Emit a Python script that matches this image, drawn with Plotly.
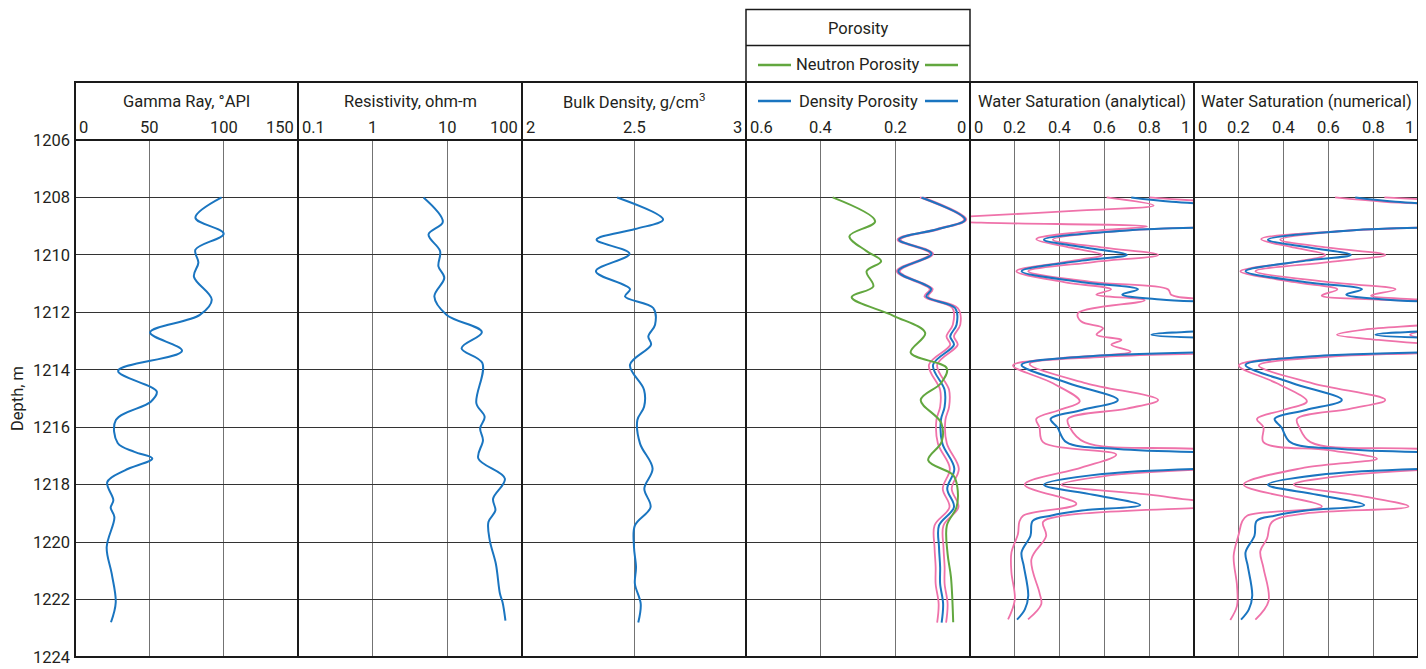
import math
import plotly.graph_objects as go

FONT = "Roboto, Liberation Sans, Arial, sans-serif"
TXT = "#231f20"
BLUE = "#1a75c0"
GREEN = "#62a73f"
PINK = "#ef72aa"

# ---------------- data ----------------
depth_gr = [1208.0, 1208.71, 1209.26, 1209.82, 1210.27, 1210.76, 1211.56, 1212.09, 1212.70,
            1213.34, 1214.04, 1214.76, 1215.11, 1215.75, 1216.55, 1216.86, 1217.09, 1217.5,
            1217.91, 1218.54, 1218.8, 1219.13, 1220.18, 1221.1, 1222.1, 1222.79]
gamma_ray = [98.6, 81, 100, 81, 83, 80, 92, 84, 50.5,
             72, 29, 55, 51, 27.5, 28.7, 40, 52, 33.6,
             21.7, 25.8, 24, 26.5, 21.3, 24.7, 27.4, 24.2]

depth_res = [1208.0, 1208.85, 1209.29, 1209.87, 1210.4, 1210.8, 1211.45, 1212.09, 1212.69,
             1213.25, 1213.77, 1215.17, 1215.64, 1216.04, 1216.45, 1217.09, 1217.79, 1218.49,
             1218.9, 1219.3, 1219.94, 1220.76, 1221.8, 1222.1, 1222.73]
resistivity = [4.8, 8.7, 5.6, 8.0, 7.6, 9.1, 6.7, 9.8, 29,
               15.5, 29.5, 24.5, 31.6, 27.5, 30, 26, 59, 41,
               44, 35.5, 37, 44.7, 50.7, 55, 60]

depth_rhob = [1208.0, 1208.77, 1209.1, 1209.47, 1209.96, 1210.57, 1211.19, 1211.45, 1211.85,
              1212.43, 1212.84, 1213.13, 1213.83, 1214.7, 1215.29, 1215.75, 1216.57, 1217.44,
              1218.14, 1218.78, 1219.42, 1220.18, 1220.87, 1221.45, 1222.15, 1222.8]
bulk_density = [2.425, 2.63, 2.505, 2.333, 2.48, 2.33, 2.482, 2.46, 2.586,
                2.594, 2.564, 2.576, 2.482, 2.545, 2.545, 2.515, 2.527, 2.583,
                2.546, 2.574, 2.504, 2.50, 2.509, 2.504, 2.53, 2.519]
density_porosity = [0.130, 0.013, 0.085, 0.190, 0.103, 0.192, 0.104, 0.117, 0.040,
                    0.036, 0.053, 0.043, 0.099, 0.068, 0.068, 0.078, 0.074, 0.042,
                    0.061, 0.043, 0.083, 0.083, 0.080, 0.080, 0.072, 0.076]
density_porosity_unc = [0.004, 0.003, 0.004, 0.004, 0.004, 0.004, 0.004, 0.005, 0.007,
                        0.010, 0.010, 0.010, 0.011, 0.012, 0.012, 0.012, 0.012, 0.012,
                        0.012, 0.012, 0.012, 0.012, 0.012, 0.012, 0.012, 0.012]

depth_nphi = [1208.0, 1208.83, 1209.35, 1209.87, 1210.22, 1210.57, 1211.1, 1211.47, 1212.12,
              1212.72, 1213.4, 1213.95, 1214.47, 1215.05, 1215.85, 1216.51, 1217.15, 1217.67,
              1218.08, 1218.78, 1219.42, 1220.41, 1221.22, 1222.79]
neutron_porosity = [0.368, 0.254, 0.323, 0.277, 0.238, 0.277, 0.259, 0.317, 0.205,
                    0.12, 0.159, 0.062, 0.078, 0.132, 0.077, 0.076, 0.112, 0.045,
                    0.034, 0.036, 0.062, 0.06, 0.051, 0.045]

# water saturation (same central curve in both tracks)
depth_sw = [1208.0, 1208.15, 1208.3, 1208.65, 1209.0, 1209.15, 1209.47, 1209.75, 1210.0,
            1210.2, 1210.57, 1210.95, 1211.2, 1211.38, 1211.55, 1211.7, 1212.1, 1212.55,
            1212.78, 1212.95, 1213.15, 1213.35, 1213.55, 1213.83, 1214.47, 1215.05, 1215.4,
            1215.71, 1216.0, 1216.52, 1216.76, 1216.9, 1217.15, 1217.4, 1217.63, 1218.0,
            1218.35, 1218.71, 1218.9, 1219.08, 1219.26, 1219.78, 1220.36, 1220.83, 1221.87,
            1222.34, 1222.7]
sw = [0.72, 0.9, 1.3, 2.5, 1.3, 0.7, 0.33, 0.52, 0.70,
      0.5, 0.23, 0.5, 0.75, 0.68, 0.85, 1.3, 2.5, 1.3,
      0.81, 1.3, 2.5, 1.3, 0.5, 0.23, 0.44, 0.66, 0.5,
      0.36, 0.39, 0.43, 0.66, 1.2, 2.5, 1.2, 0.59, 0.33,
      0.55, 0.76, 0.5, 0.36, 0.28, 0.27, 0.23, 0.24, 0.26,
      0.245, 0.21]

depth_swa_lo = [1208.0, 1208.28, 1208.45, 1208.66, 1208.77, 1208.88, 1209.01, 1209.2, 1209.45,
                1209.75, 1210.0, 1210.25, 1210.57, 1210.95, 1211.2, 1211.38, 1211.58, 1212.03,
                1212.32, 1212.55, 1212.78, 1212.96, 1213.13, 1213.37, 1213.6, 1213.85, 1214.47,
                1215.1, 1215.4, 1215.71, 1216.0, 1216.52, 1216.95, 1217.4, 1218.0, 1218.67,
                1219.08, 1219.3, 1219.72, 1220.36, 1221.06, 1222.0, 1222.69]
sw_analytical_lo = [0.61, 0.82, 0.5, 0.0, -0.25, 0.05, 0.79, 0.5, 0.296,
                    0.45, 0.59, 0.42, 0.207, 0.42, 0.63, 0.564, 0.78, 0.482,
                    0.497, 0.594, 0.565, 0.676, 0.631, 0.717, 0.4, 0.192, 0.37,
                    0.49, 0.4, 0.296, 0.31, 0.326, 0.653, 0.5, 0.244, 0.475,
                    0.237, 0.22, 0.214, 0.185, 0.185, 0.2, 0.17]

depth_swa_hi = [1208.0, 1208.15, 1208.6, 1209.0, 1209.15, 1209.47, 1209.75, 1210.0, 1210.25,
                1210.57, 1210.95, 1211.2, 1211.4, 1211.55, 1211.7, 1212.5, 1213.35, 1213.55,
                1213.8, 1214.47, 1215.05, 1215.35, 1215.71, 1216.0, 1216.52, 1216.75, 1217.1,
                1217.45, 1217.7, 1218.0, 1218.35, 1218.58, 1218.69, 1218.8, 1219.1, 1219.3,
                1219.78, 1220.6, 1221.76, 1222.16, 1222.69]
sw_analytical_hi = [0.80, 1.1, 2.5, 1.2, 0.7, 0.37, 0.6, 0.84, 0.55,
                    0.26, 0.55, 0.884, 0.9, 1.2, 1.6, 2.5, 1.3, 0.6,
                    0.266, 0.52, 0.84, 0.7, 0.437, 0.445, 0.512, 1.0, 2.5,
                    1.1, 0.6, 0.408, 0.8, 1.05, 1.4, 1.05, 0.4, 0.326,
                    0.34, 0.274, 0.31, 0.318, 0.259]

depth_swn_lo = [1208.0, 1208.15, 1208.3, 1208.65, 1209.0, 1209.15, 1209.45, 1209.75, 1210.0,
                1210.25, 1210.57, 1210.95, 1211.2, 1211.42, 1211.55, 1211.7, 1212.05, 1212.43,
                1212.6, 1212.78, 1212.96, 1213.1, 1213.25, 1213.38, 1213.55, 1213.85, 1214.47,
                1215.1, 1215.4, 1215.71, 1216.0, 1216.52, 1216.8, 1217.1, 1217.4, 1218.0,
                1218.76, 1219.08, 1219.3, 1219.72, 1220.48, 1221.52, 1222.22, 1222.71]
sw_numerical_lo = [0.63, 0.85, 1.3, 2.5, 1.3, 0.7, 0.30, 0.45, 0.586,
                   0.45, 0.207, 0.45, 0.64, 0.57, 0.8, 1.3, 1.6, 1.05,
                   0.76, 0.638, 0.824, 1.05, 1.4, 1.15, 0.5, 0.2, 0.37,
                   0.504, 0.4, 0.281, 0.31, 0.31, 0.6, 0.817, 0.5, 0.222,
                   0.571, 0.237, 0.214, 0.2, 0.177, 0.192, 0.192, 0.162]

depth_swn_hi = [1208.0, 1208.1, 1208.6, 1209.0, 1209.15, 1209.47, 1209.75, 1210.0, 1210.25,
                1210.57, 1210.95, 1211.2, 1211.42, 1211.55, 1211.7, 1212.2, 1212.62, 1212.78,
                1212.93, 1213.15, 1213.35, 1213.55, 1213.85, 1214.47, 1215.05, 1215.35, 1215.71,
                1216.0, 1216.52, 1216.75, 1217.1, 1217.45, 1217.7, 1218.0, 1218.4, 1218.76,
                1219.0, 1219.3, 1219.88, 1220.32, 1220.9, 1222.05, 1222.7]
sw_numerical_hi = [0.85, 1.1, 2.5, 1.2, 0.7, 0.385, 0.6, 0.854, 0.6,
                   0.274, 0.6, 0.9, 0.79, 1.0, 1.4, 1.6, 1.04, 0.965,
                   1.04, 1.6, 1.3, 0.6, 0.289, 0.53, 0.854, 0.7, 0.46,
                   0.47, 0.52, 1.0, 2.5, 1.1, 0.65, 0.445, 0.75, 0.958,
                   0.5, 0.348, 0.326, 0.296, 0.31, 0.333, 0.274]

# axis ticks / labels
gr_ticks, gr_labels = [0, 50, 100, 150], ["0", "50", "100", "150"]
res_ticks, res_labels = [0.1, 1, 10, 100], ["0.1", "1", "10", "100"]
rhob_ticks, rhob_labels = [2, 2.5, 3], ["2", "2.5", "3"]
phi_ticks, phi_labels = [0.6, 0.4, 0.2, 0], ["0.6", "0.4", "0.2", "0"]
sw_ticks, sw_labels = [0, 0.2, 0.4, 0.6, 0.8, 1], ["0", "0.2", "0.4", "0.6", "0.8", "1"]
depth_ticks = list(range(1206, 1225, 2))

track_titles = ["Gamma Ray, °API", "Resistivity, ohm-m", "Bulk Density, g/cm<sup>3</sup>",
                "Density Porosity", "Water Saturation (analytical)", "Water Saturation (numerical)"]

# ---------------- layout geometry ----------------
# the page body adds an 8 px margin, so the figure is 8 px smaller and shifted
OFF = 8
W, H = 1426 - OFF, 669 - OFF
PLOT_L, PLOT_R, PLOT_T, PLOT_B = 75, 1418, 140, 657   # in page pixels
L, R, T, B = PLOT_L - OFF, W - (PLOT_R - OFF), PLOT_T - OFF, H - (PLOT_B - OFF)
bounds = [75, 298, 522, 746, 970, 1194, 1418]


def px2x(px):
    return (px - PLOT_L) / (PLOT_R - PLOT_L)


def py2y(py):
    return (PLOT_B - py) / (PLOT_B - PLOT_T)


fig = go.Figure()


def line_trace(x, y, axis, color, width=2.0):
    fig.add_trace(go.Scatter(x=x, y=y, xaxis=axis, yaxis="y", mode="lines",
                             line=dict(color=color, width=width, shape="spline", smoothing=1.0),
                             hoverinfo="skip", showlegend=False))


line_trace(gamma_ray, depth_gr, "x", BLUE)
line_trace(resistivity, depth_res, "x2", BLUE)
line_trace(bulk_density, depth_rhob, "x3", BLUE)
dphi_lo = [d - u for d, u in zip(density_porosity, density_porosity_unc)]
dphi_hi = [d + u for d, u in zip(density_porosity, density_porosity_unc)]
line_trace(dphi_lo, depth_rhob, "x4", PINK, 1.8)
line_trace(dphi_hi, depth_rhob, "x4", PINK, 1.8)
line_trace(density_porosity, depth_rhob, "x4", BLUE)
line_trace(neutron_porosity, depth_nphi, "x4", GREEN)
line_trace(sw_analytical_lo, depth_swa_lo, "x5", PINK, 1.8)
line_trace(sw_analytical_hi, depth_swa_hi, "x5", PINK, 1.8)
line_trace(sw, depth_sw, "x5", BLUE)
line_trace(sw_numerical_lo, depth_swn_lo, "x6", PINK, 1.8)
line_trace(sw_numerical_hi, depth_swn_hi, "x6", PINK, 1.8)
line_trace(sw, depth_sw, "x6", BLUE)

axes_cfg = [
    dict(type="linear", range=[0, 150], grid=[50, 100], ticks=gr_ticks, labels=gr_labels),
    dict(type="log", range=[-1, 2], grid=[1, 10], ticks=res_ticks, labels=res_labels),
    dict(type="linear", range=[2, 3], grid=[2.5], ticks=rhob_ticks, labels=rhob_labels),
    dict(type="linear", range=[0.6, 0], grid=[0.4, 0.2], ticks=phi_ticks, labels=phi_labels),
    dict(type="linear", range=[0, 1], grid=[0.2, 0.4, 0.6, 0.8], ticks=sw_ticks, labels=sw_labels),
    dict(type="linear", range=[0, 1], grid=[0.2, 0.4, 0.6, 0.8], ticks=sw_ticks, labels=sw_labels),
]

TICK_SIZE = 16.5
TITLE_SIZE = 16.5

layout = dict(
    width=W, height=H,
    margin=dict(l=L, r=R, t=T, b=B, pad=0, autoexpand=False),
    paper_bgcolor="white", plot_bgcolor="white",
    font=dict(family=FONT, size=TICK_SIZE, color=TXT),
    showlegend=False,
    yaxis=dict(range=[1224, 1206], tickvals=depth_ticks, showgrid=True, gridcolor="#333333",
               gridwidth=1.4, zeroline=False, showline=False, ticks="", anchor="x",
               automargin=False, ticklabelstandoff=4,
               tickfont=dict(size=TICK_SIZE, color=TXT, family=FONT),
               title=dict(text="Depth, m", font=dict(size=TICK_SIZE, color=TXT, family=FONT),
                          standoff=14)),
)

annotations = []
shapes = []
y_tick = py2y(128)
y_title = py2y(101)
for i, cfg in enumerate(axes_cfg):
    name = "xaxis" if i == 0 else f"xaxis{i + 1}"
    ref = "x" if i == 0 else f"x{i + 1}"
    layout[name] = dict(domain=[px2x(bounds[i]), px2x(bounds[i + 1])], anchor="y",
                        type=cfg["type"], range=cfg["range"], tickvals=cfg["grid"],
                        showticklabels=False, ticks="", showgrid=True, gridcolor="#737373",
                        gridwidth=1.4, zeroline=False, showline=False)
    n = len(cfg["ticks"])
    for j, (tv, tl) in enumerate(zip(cfg["ticks"], cfg["labels"])):
        xa = "left" if j == 0 else ("right" if j == n - 1 else "center")
        xv = math.log10(tv) if cfg["type"] == "log" else tv
        xshift = 2 if j == 0 else (-2 if j == n - 1 else 0)
        annotations.append(dict(x=xv, y=y_tick, xref=ref, yref="paper", text=tl, showarrow=False,
                                xanchor=xa, yanchor="middle", xshift=xshift,
                                font=dict(size=TICK_SIZE, color=TXT, family=FONT)))
    annotations.append(dict(x=(px2x(bounds[i]) + px2x(bounds[i + 1])) / 2, y=y_title,
                            xref="paper", yref="paper", text=track_titles[i], showarrow=False,
                            xanchor="center", yanchor="middle",
                            font=dict(size=TITLE_SIZE, color=TXT, family=FONT)))
    shapes.append(dict(type="rect", xref="paper", yref="paper",
                       x0=px2x(bounds[i]), x1=px2x(bounds[i + 1]), y0=0, y1=py2y(82),
                       line=dict(color="#1a1a1a", width=2), layer="above"))

shapes.append(dict(type="line", xref="paper", yref="paper", x0=0, x1=1, y0=1, y1=1,
                   line=dict(color="#1a1a1a", width=2), layer="above"))
shapes.append(dict(type="rect", xref="paper", yref="paper",
                   x0=px2x(746), x1=px2x(970), y0=py2y(82), y1=py2y(9.5),
                   line=dict(color="#1a1a1a", width=1.5), layer="above"))
shapes.append(dict(type="line", xref="paper", yref="paper",
                   x0=px2x(746), x1=px2x(970), y0=py2y(45.5), y1=py2y(45.5),
                   line=dict(color="#1a1a1a", width=1.5), layer="above"))
annotations.append(dict(x=px2x(858), y=py2y(28), xref="paper", yref="paper", text="Porosity",
                        showarrow=False, xanchor="center", yanchor="middle",
                        font=dict(size=TITLE_SIZE, color=TXT, family=FONT)))
annotations.append(dict(x=px2x(858), y=py2y(65), xref="paper", yref="paper", text="Neutron Porosity",
                        showarrow=False, xanchor="center", yanchor="middle",
                        font=dict(size=TITLE_SIZE, color=TXT, family=FONT)))
for (a, b) in [(758, 791), (925, 958)]:
    shapes.append(dict(type="line", xref="paper", yref="paper", x0=px2x(a), x1=px2x(b),
                       y0=py2y(65), y1=py2y(65), line=dict(color=GREEN, width=2.5), layer="above"))
    shapes.append(dict(type="line", xref="paper", yref="paper", x0=px2x(a), x1=px2x(b),
                       y0=py2y(101), y1=py2y(101), line=dict(color=BLUE, width=2.5), layer="above"))

layout["annotations"] = annotations
layout["shapes"] = shapes
fig.update_layout(**layout)
fig.write_html("out.html")
